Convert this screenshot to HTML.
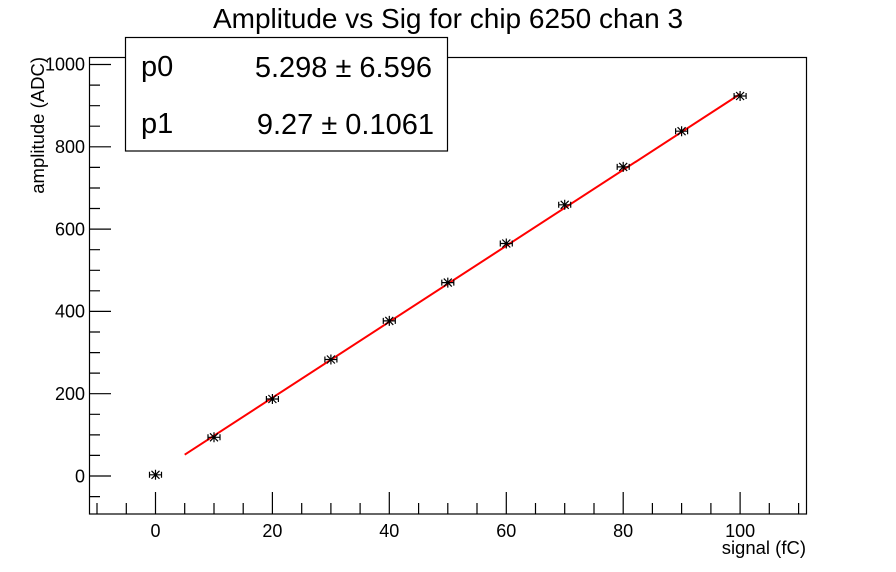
<!DOCTYPE html>
<html><head><meta charset="utf-8"><style>body{margin:0;background:#fff}svg{display:block}</style></head>
<body>
<svg width="896" height="572" viewBox="0 0 896 572" xmlns="http://www.w3.org/2000/svg" font-family="Liberation Sans, sans-serif">
<defs>
<g id="m" stroke="#000" stroke-width="1.2" fill="none">
<path d="M-6,0H6M-6,-3V3M6,-3V3M0,-5V5M-4,-4L4,4M-4,4L4,-4"/>
</g>
</defs>
<rect width="896" height="572" fill="#fff"/>
<text x="448" y="28" font-size="28" text-anchor="middle">Amplitude vs Sig for chip 6250 chan 3</text>
<rect x="89.5" y="57.5" width="717" height="456.5" fill="none" stroke="#000" stroke-width="1.2"/>
<g stroke="#000" stroke-width="1.2">
<path d="M97,514V503M126.3,514V503M184.7,514V503M214,514V503M243.2,514V503M301.7,514V503M330.9,514V503M360.1,514V503M418.6,514V503M447.8,514V503M477,514V503M535.5,514V503M564.7,514V503M594,514V503M652.4,514V503M681.6,514V503M710.9,514V503M769.3,514V503M798.6,514V503"/>
<path d="M155.5,514V492M272.4,514V492M389.3,514V492M506.3,514V492M623.2,514V492M740.1,514V492"/>
<path d="M89,496.6H100M89,455.4H100M89,434.9H100M89,414.3H100M89,373.1H100M89,352.6H100M89,332H100M89,290.8H100M89,270.3H100M89,249.7H100M89,208.5H100M89,188H100M89,167.4H100M89,126.2H100M89,105.7H100M89,85.1H100"/>
<path d="M89,476H111M89,393.7H111M89,311.4H111M89,229.1H111M89,146.8H111M89,64.5H111"/>
</g>
<g font-size="18" text-anchor="middle">
<text x="155.5" y="537">0</text><text x="272.4" y="537">20</text><text x="389.3" y="537">40</text><text x="506.3" y="537">60</text><text x="623.2" y="537">80</text><text x="740.1" y="537">100</text>
</g>
<g font-size="18" text-anchor="end">
<text x="85" y="482.5">0</text><text x="85" y="400">200</text><text x="85" y="317.5">400</text><text x="85" y="235.5">600</text><text x="85" y="153">800</text><text x="85" y="70.5">1000</text>
</g>
<text x="806" y="554" font-size="18.5" text-anchor="end">signal (fC)</text>
<text transform="translate(44,57) rotate(-90)" font-size="18.5" text-anchor="end">amplitude (ADC)</text>
<line x1="184.7" y1="454.7" x2="740.1" y2="94" stroke="#f00" stroke-width="2"/>
<use href="#m" x="155.5" y="474.8"/><use href="#m" x="214" y="437.3"/><use href="#m" x="272.4" y="399"/><use href="#m" x="330.9" y="359.5"/><use href="#m" x="389.3" y="320.9"/><use href="#m" x="447.8" y="282.6"/><use href="#m" x="506.3" y="243.5"/><use href="#m" x="564.7" y="204.8"/><use href="#m" x="623.2" y="166.9"/><use href="#m" x="681.6" y="131.2"/><use href="#m" x="740.1" y="96"/>
<rect x="125.5" y="37.5" width="322" height="113.5" fill="#fff" stroke="#000" stroke-width="1.2"/>
<g font-size="29">
<text x="141" y="76">p0</text><text x="141" y="133">p1</text>
<text x="432" y="77" text-anchor="end">5.298 ± 6.596</text>
<text x="434" y="134" text-anchor="end">9.27 ± 0.1061</text>
</g>
</svg>
</body></html>
